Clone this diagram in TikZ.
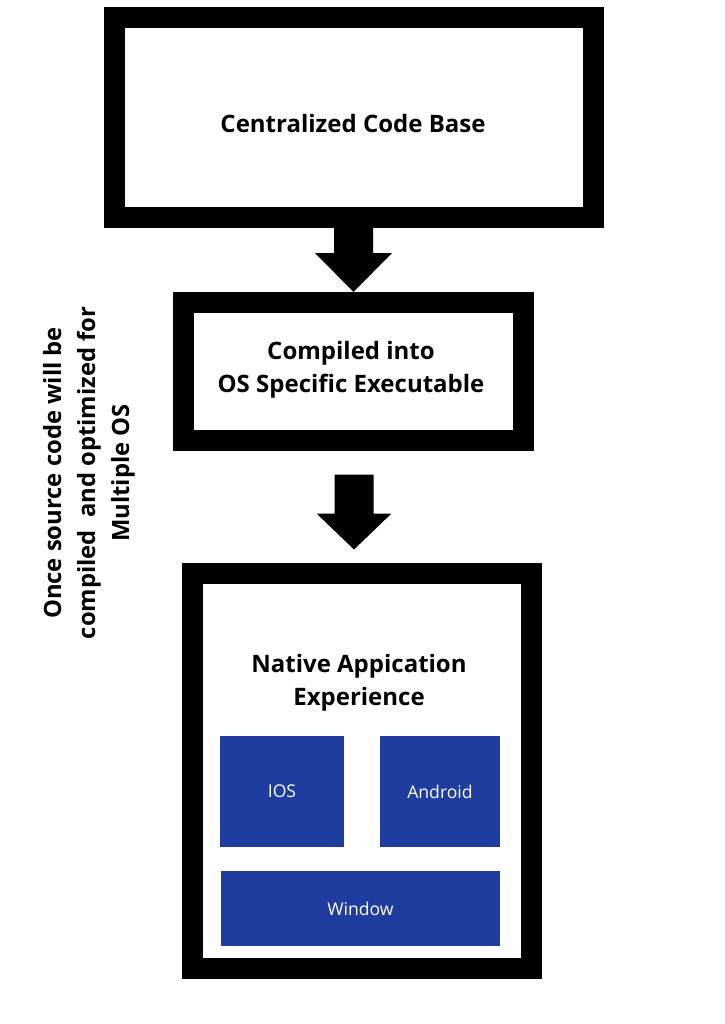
\documentclass[tikz,border=0pt]{standalone}
\usepackage{fontspec}
\setmainfont{Open Sans}
\usetikzlibrary{calc}
\definecolor{osblue}{RGB}{30,61,158}
\begin{document}
\begin{tikzpicture}[x=1pt,y=-1pt,
  bigbox/.style={draw=black,line width=21pt,fill=white,inner sep=0pt},
  boxtext/.style={inner sep=0pt,align=center,font=\bfseries\fontsize{24}{33.5}\selectfont},
  osbox/.style={fill=osblue,draw=none,inner sep=0pt,text=white,
    font=\fontsize{17.6}{20}\selectfont},
  blockarrow/.style={fill=black,draw=none}]
\fill[white] (0,0) rectangle (724,1024);
\useasboundingbox (0,0) rectangle (724,1024);

\node[bigbox,minimum width=479pt,minimum height=199.5pt] (b1) at (354,117.75) {};
\node[boxtext] (t1) at (353,124) {Centralized Code Base};
\node[bigbox,minimum width=340pt,minimum height=137.5pt] (b2) at (353.5,371.25) {};
\node[boxtext] (t2) at (351,370) {Compiled into\\OS Specific Executable};
\node[bigbox,minimum width=339pt,minimum height=395pt] (b3) at (362,771) {};
\node[boxtext] (t3) at (359,683) {Native Appication\\Experience};

\node[osbox,minimum width=124pt,minimum height=111pt] (ios) at (282,791.5) {IOS};
\node[osbox,minimum width=120pt,minimum height=111pt] (android) at (440,791.5) {Android};
\node[osbox,minimum width=279pt,minimum height=75pt] (window) at (360.5,908.5) {Window};

\node[rotate=90,inner sep=0pt,align=center,font=\bfseries\fontsize{23.8}{34}\selectfont] (side) at (89,473)
  {Once source code will be\\compiled\ \ and optimized for\\Multiple OS};

% arrow 1: from b1 to b2
\coordinate (a1s) at (b1.south -| b2.north);
\fill[blockarrow] ($(a1s)+(-19.5,0)$) -- ($(b2.north)+(-19.5,-39)$) -- ($(b2.north)+(-38.5,-39)$)
  -- (b2.north) -- ($(b2.north)+(38.5,-39)$) -- ($(b2.north)+(19.5,-39)$) -- ($(a1s)+(19.5,0)$) -- cycle;

% arrow 2: from b2 towards b3
\coordinate (a2s) at ($(b2.south)+(0.5,24)$);
\coordinate (a2t) at ($(b2.south)+(0.5,99)$);
\fill[blockarrow] ($(a2s)+(-19.5,0)$) -- ($(a2t)+(-19.5,-36)$) -- ($(a2t)+(-37.5,-36)$)
  -- (a2t) -- ($(a2t)+(37.5,-36)$) -- ($(a2t)+(19.5,-36)$) -- ($(a2s)+(19.5,0)$) -- cycle;
\end{tikzpicture}
\end{document}
